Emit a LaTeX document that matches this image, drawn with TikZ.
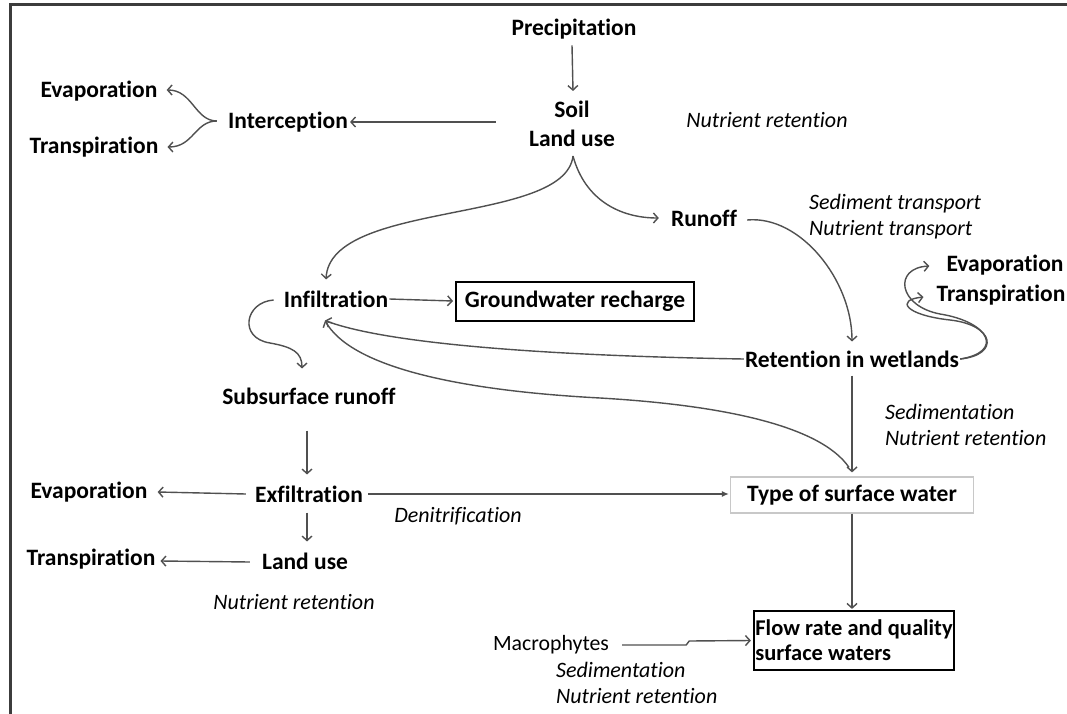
\documentclass[tikz,border=0pt]{standalone}
\usepackage{fontspec}
\setmainfont{Carlito}[Ligatures={NoCommon}]
\usetikzlibrary{arrows.meta,calc}
\definecolor{linegray}{HTML}{505050}
\definecolor{framegray}{HTML}{3C3C3C}
\definecolor{boxgray}{HTML}{C8C8C8}
\begin{document}
\begin{tikzpicture}[x=1pt,y=-1pt,
  lbl/.style={font=\fontsize{23.5}{29}\selectfont\bfseries, inner sep=1pt, align=center},
  note/.style={font=\fontsize{22}{26}\selectfont\itshape, inner sep=1pt, align=left},
  plain/.style={font=\fontsize{21.8}{26}\selectfont, inner sep=1pt},
  flow/.style={draw=linegray, line width=1.4pt, -{Straight Barb[length=4.5pt,width=10pt,line width=1.4pt]}},
  solidflow/.style={draw=linegray, line width=1.4pt, -{Latex[length=7pt,width=6pt]}}
]
\useasboundingbox (0,0) rectangle (1067,714);
\fill[white] (0,0) rectangle (1067,714);

% outer frame (top and left edges)
\draw[framegray, line width=3pt] (10,714) -- (10,5) -- (1067,5);

% labels
\node[lbl] (prec) at (574,29) {Precipitation};
\node[lbl] (soil) at (572,124) {Soil\\Land use};
\node[lbl] (icpt) at (288,122) {Interception};
\node[lbl] (evapA) at (99,91) {Evaporation};
\node[lbl] (transA) at (94,147) {Transpiration};
\node[note] (nr1) at (767,120) {Nutrient retention};
\node[lbl] (runoff) at (704,218) {Runoff};
\node[note, anchor=west] (sedtr) at (808,217) {Sediment transport\\Nutrient transport};
\node[lbl] (infil) at (336,299) {Infiltration};
\node[lbl, draw=black, line width=2pt, minimum width=238pt, minimum height=39pt, inner sep=0pt] (gwr) at (575,301) {Groundwater recharge};
\node[lbl] (evapB) at (1005,265) {Evaporation};
\node[lbl] (transB) at (1001,295) {Transpiration};
\node[lbl] (ret) at (852,359) {Retention in wetlands};
\node[note, anchor=west] (sednr) at (884,425) {Sedimentation\\Nutrient retention};
\node[lbl] (subs) at (309,396) {Subsurface runoff};
\node[lbl] (exf) at (309,494) {Exfiltration};
\node[lbl] (evapC) at (89,492) {Evaporation};
\node[note] (denit) at (458,516) {Denitrification};
\node[lbl, draw=boxgray, line width=1.2pt, minimum width=243pt, minimum height=36pt, inner sep=0pt] (tsw) at (852,495) {Type of surface water};
\node[lbl] (lu) at (305,561) {Land use};
\node[lbl] (transC) at (91,559) {Transpiration};
\node[note] (nr2) at (294,602) {Nutrient retention};
\node[draw=black, line width=2.2pt, minimum width=200pt, minimum height=59pt, inner sep=0pt,
      font=\fontsize{22.5}{25}\selectfont\bfseries, align=left] (frq) at (854,640.5) {Flow rate and quality\\surface waters};
\node[plain] (macro) at (551,645) {Macrophytes};
\node[note, anchor=west] (sednr2) at (555,683) {Sedimentation\\Nutrient retention};

% split point below soil / land use
\coordinate (fork) at ($(soil.south)+(1,8)$);

% connectors
\draw[flow] ($(prec.south)+(-2,5)$) -- ($(soil.north)+(1,-9)$);
\draw[flow] ($(soil.west)+(-32,-2)$) -- ($(icpt.east)+(1,0)$);
\draw[flow] ($(icpt.west)+(-10,-1)$) .. controls +(-22,0) and +(26,0) .. ($(evapA.east)+(8,-1)$);
\draw[flow] ($(icpt.west)+(-10,-1)$) .. controls +(-22,0) and +(26,0) .. ($(transA.east)+(8,0)$);
\draw[flow] (fork) .. controls (565,225) and (330,200) .. ($(infil.north)+(-10,-10)$);
\draw[flow] (fork) .. controls (585,200) and (620,218) .. ($(runoff.west)+(-11,0)$);
\draw[flow] ($(runoff.east)+(9,2)$) .. controls (800,215) and (852,280) .. ($(ret.north)+(0,-8)$);
\draw[flow] (ret.east) .. controls (1000,355) and (995,325) .. (950,320)
            .. controls (905,315) and (895,300) .. ($(transB.west)+(-12,2)$);
\draw[flow] (ret.east) .. controls (1004,352) and (990,322) .. (940,314)
            .. controls (898,306) and (893,268) .. ($(evapB.west)+(-16,1)$);
\draw[flow] (infil.east) -- ($(gwr.west)+(-2,0)$);
\draw[flow] (ret.west) .. controls (560,356) and (390,345) .. ($(infil.south)+(-11,12)$);
\draw[flow] ($(tsw.north)+(-3,-9)$) .. controls (820,425) and (720,405) .. (600,398)
            .. controls (450,390) and (350,365) .. ($(infil.south)+(-11,12)$);
\draw[flow] ($(infil.west)+(-9,1)$) .. controls (245,302) and (238,338) .. (270,343)
            .. controls (292,347) and (302,352) .. ($(subs.north)+(-7,-18)$);
\draw[flow] ($(subs.south)+(-2,25)$) -- ($(exf.north)+(-2,-10)$);
\draw[flow] ($(exf.west)+(-8,0)$) -- ($(evapC.east)+(9,0)$);
\draw[solidflow] ($(exf.east)+(4,0)$) -- ($(tsw.west)+(-1,-1)$);
\draw[flow] ($(exf.south)+(-2,9)$) -- ($(lu.north)+(2,-10)$);
\draw[flow] ($(lu.west)+(-11,1)$) -- ($(transC.east)+(4,2)$);
\draw[flow] ($(ret.south)+(0,7)$) -- ($(tsw.north)+(0,-4)$);
\draw[flow] (tsw.south) -- ($(frq.north)+(-2,-1)$);
\draw[flow] ($(macro.east)+(12,0)$) -- ++(64,0) -- ++(3,-4) -- ($(frq.west)+(-2,0)$);
\end{tikzpicture}
\end{document}
